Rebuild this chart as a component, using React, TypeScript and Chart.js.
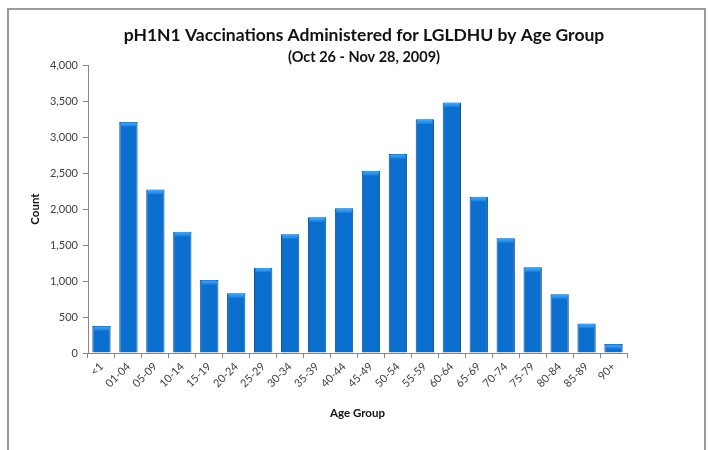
import React, { useEffect, useRef } from "react";
import { Chart, registerables } from "chart.js";

Chart.register(...registerables);

const categories = ["<1", "01-04", "05-09", "10-14", "15-19", "20-24", "25-29", "30-34", "35-39", "40-44", "45-49", "50-54", "55-59", "60-64", "65-69", "70-74", "75-79", "80-84", "85-89", "90+"];
const counts = [375, 3210, 2270, 1685, 1015, 830, 1185, 1650, 1885, 2010, 2530, 2765, 3245, 3480, 2170, 1595, 1190, 815, 410, 125];
const yTicks = [0, 500, 1000, 1500, 2000, 2500, 3000, 3500, 4000];
const titleText = "pH1N1 Vaccinations Administered for LGLDHU by Age Group";
const subtitleText = "(Oct 26 - Nov 28, 2009)";
const xTitle = "Age Group";
const yTitle = "Count";

const FONT = "Lato, 'Open Sans', sans-serif";

const decorPlugin = {
  id: "decor",
  beforeDraw(chart: any) {
    const ctx = chart.ctx;
    ctx.save();
    ctx.fillStyle = "#ffffff";
    ctx.fillRect(0, 0, chart.width, chart.height);
    ctx.strokeStyle = "#9a9a9a";
    ctx.lineWidth = 2;
    ctx.beginPath();
    ctx.moveTo(8, 460);
    ctx.lineTo(8, 9);
    ctx.lineTo(705, 9);
    ctx.lineTo(705, 460);
    ctx.stroke();
    ctx.fillStyle = "#111";
    ctx.textAlign = "center";
    ctx.textBaseline = "middle";
    ctx.font = `bold 17.5px ${FONT}`;
    ctx.fillText(titleText, 364, 35);
    ctx.font = `bold 14.5px ${FONT}`;
    ctx.fillText(subtitleText, 364, 57);
    ctx.restore();
  },
  afterDatasetsDraw(chart: any) {
    const ctx = chart.ctx;
    const meta = chart.getDatasetMeta(0);
    ctx.save();
    meta.data.forEach((bar: any) => {
      const w = bar.width;
      const left = bar.x - w / 2;
      const top = bar.y;
      const h = Math.min(4, bar.base - bar.y);
      const g = ctx.createLinearGradient(0, top, 0, top + h);
      g.addColorStop(0, "#4faaf0");
      g.addColorStop(1, "#1f86e0");
      ctx.fillStyle = g;
      ctx.fillRect(left + 1.5, top + 0.5, w - 3, h);
    });
    ctx.restore();
  },
};

export default function App() {
  const ref = useRef<HTMLCanvasElement | null>(null);
  useEffect(() => {
    if (!ref.current) return;
    const chart = new Chart(ref.current, {
      type: "bar",
      data: {
        labels: categories,
        datasets: [
          {
            data: counts,
            backgroundColor: (c: any) => {
              const ch = c.chart;
              const el = ch.getDatasetMeta(0).data[c.dataIndex];
              if (!el || !isFinite(el.x) || !el.width) return "#0b6fcf";
              const g = ch.ctx.createLinearGradient(el.x - el.width / 2, 0, el.x + el.width / 2, 0);
              g.addColorStop(0, "#0a5cb0");
              g.addColorStop(0.3, "#0f74d6");
              g.addColorStop(0.7, "#0f74d6");
              g.addColorStop(1, "#0a5cb0");
              return g;
            },
            borderColor: "#0b4f92",
            borderWidth: 1,
            barPercentage: 0.68,
            categoryPercentage: 1,
          },
        ],
      },
      options: {
        animation: false,
        responsive: false,
        maintainAspectRatio: false,
        layout: { padding: { left: 28, right: 82, top: 65, bottom: 30 } },
        plugins: { legend: { display: false }, tooltip: { enabled: false }, title: { display: false } },
        scales: {
          x: {
            grid: { display: true, drawOnChartArea: false, drawTicks: true, tickLength: 5, color: "#868686", offset: true },
            border: { display: true, color: "#868686", width: 1 },
            ticks: { color: "#404040", font: { family: FONT, size: 11 }, minRotation: 45, maxRotation: 45, autoSkip: false, padding: 2 },
            title: { display: true, text: xTitle, color: "#111", font: { family: FONT, size: 11.5, weight: "bold" }, padding: { top: 4, bottom: 0 } },
            afterFit: (s: any) => {
              s.height = 67;
            },
          },
          y: {
            min: 0,
            max: 4000,
            afterBuildTicks: (s: any) => {
              s.ticks = yTicks.map((v) => ({ value: v }));
            },
            grid: { display: true, drawOnChartArea: false, drawTicks: true, tickLength: 5, color: "#868686" },
            border: { display: true, color: "#868686", width: 1 },
            ticks: {
              color: "#404040",
              font: { family: FONT, size: 11 },
              padding: 5,
              callback: (v: any) => Number(v).toLocaleString("en-US"),
            },
            title: { display: true, text: yTitle, color: "#111", font: { family: FONT, size: 11.5, weight: "bold" }, padding: { top: 0, bottom: 0 } },
            afterFit: (s: any) => {
              s.width = 60;
            },
          },
        },
      },
      plugins: [decorPlugin],
    });
    return () => chart.destroy();
  }, []);
  return (
    <div style={{ position: "fixed", left: 0, top: 0, width: 709, height: 450, background: "#fff" }}>
      <canvas ref={ref} width={709} height={450} style={{ display: "block", width: 709, height: 450 }} />
    </div>
  );
}
